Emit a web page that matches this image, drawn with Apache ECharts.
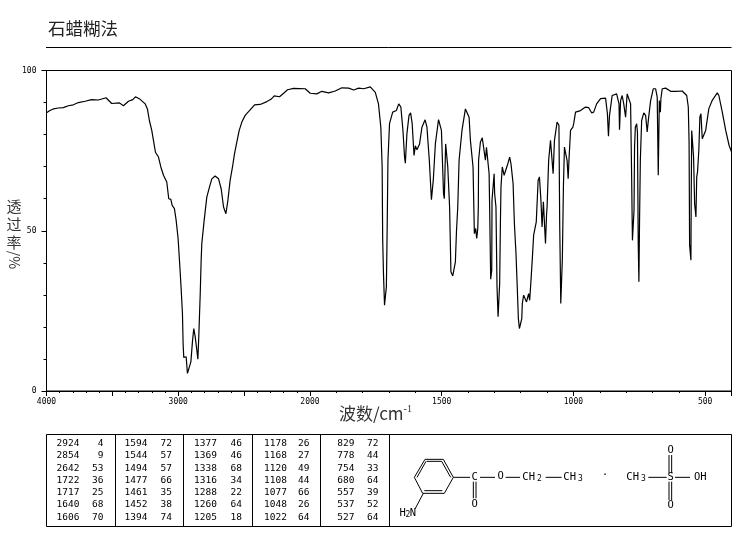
<!DOCTYPE html>
<html>
<head>
<meta charset="utf-8">
<style>html,body{margin:0;padding:0;background:#fff}#c{width:737px;height:539px}</style>
<script src="https://cdn.jsdelivr.net/npm/echarts@6/dist/echarts.min.js"></script>
</head>
<body>
<div id="c"></div>
<script>
const wavenumbers = [
4000,3974,3948,3910,3872,3834,3796,3758,3707,3657,3606,3548,3505,3446,3416,3378,3345,3325,3289,3251,3234,3219,3201,3188,3173,3150,3132,3112,3087,3072,3056,3046,3029,3016,3001,2986,
2978,2968,2963,2958,2940,2930,2917,2904,2892,2882,2871,2859,2851,2844,2833,2826,2821,2803,2783,2763,2745,2720,2694,2674,2656,2638,2623,2606,2588,2573,2555,2537,2517,2492,2454,2421,2378,2327,2296,2271,2231,2200,2170,2124,2036,
1999,1974,1955,1929,1904,1879,1853,1834,1815,1796,1771,1752,1740,1731,1726,1724,1721,1717,1715,1710,1708,1706,1704,1698,1686,1672,1663,1655,1647,1641,1638,1632,1624,1618,1612,1605,1600,1594,1584,1575,1563,1556,1547,1539,1532,1524,1512,1501,1493,1490,1485,1480,1477,1470,1465,1458,1453,1448,1444,1439,1434,1423,1410,1404,1396,1391,1386,1381,1376,1371,1367,1363,1361,1360,1353,1346,1339,1334,1330,1325,1320,1318,1316,1314,1310,1309,1301,1299,1294,1290,1286,1282,1280,1277,1275,1270,1263,1256,1249,1242,1237,1229,1224,1218,1213,1209,1205,1200,1196,1194,1189,1184,1178,1174,1170,1166,1161,1156,1151,1141,1134,1129,1123,1119,1114,1110,1106,1102,1100,1094,1087,1082,1077,1072,1062,1055,1052,1048,1044,1042,1038,1034,1028,1024,1020,1017,1011,1002,999,992,973,954,942,931,923,912,897,878,871,867,863,853,836,827,825,821,815,809,802,796,790,783,779,777,776,774,770,768,765,760,757,754,751.5,749,746,741,733,726,720,715,707,697,688,682,678,674,670,668,663,650,631,612,587,570,564,561,559,556.5,554,553,551,546,544,540,535,532,529,526,524,520,516,511,505,498,486,473,454,448,435,422,409,400
];
const transmittance = [
86.8,87.5,88.0,88.3,88.4,89.0,89.3,90.0,90.4,90.9,90.8,91.5,89.7,89.9,89.0,90.4,90.9,91.8,91.0,89.6,88.0,84.4,81.3,78.2,74.5,73.0,69.9,67.3,65.2,60.0,59.8,57.9,56.9,53.3,47.6,37.7,
32.0,24.2,14.8,10.5,10.7,5.5,5.0,9.1,15.4,19.5,16.9,12.8,9.9,16.9,30.4,40.8,46.0,53.3,60.5,63.6,66.2,67.1,66.2,63.1,57.4,55.3,59.5,65.7,69.9,74.0,77.7,81.3,83.9,86.0,87.7,89.3,89.4,90.3,91.0,92.1,91.8,92.9,94.0,94.4,94.3,
92.9,92.7,93.5,93.0,93.6,94.6,94.5,93.9,94.5,94.3,94.9,93.2,89.6,82.3,69.9,47.6,36.7,26.8,26.6,32.5,43.9,57.4,72,83.4,87,87.5,89.6,88.6,81.3,73,71.1,80.3,86,86.8,83.4,73.5,76.5,75.3,77.1,82.3,84.6,82.3,72,59.7,65.7,77.1,84.7,81.3,61.6,60,77.1,77,70,57.4,37.2,35.9,36.1,40.3,49.6,57.4,72,81.3,88,88,85.4,78.2,78.2,69.9,49.1,50.7,47.6,50.7,57.4,72,77.7,79,78.4,72,76,76,67.8,57.4,46,34.9,37.7,59.5,67.8,61.6,57.4,32.5,23.2,23.2,33.5,53.3,63.6,69.9,67.3,66.8,70.9,73,70.9,64.7,52.2,42.9,32,22.6,19.5,19.2,22.6,27.3,29.9,29.4,27.8,27.8,30.4,28.3,34.6,41.3,48.6,52.8,65.7,66.8,59,51.2,59,59,46,55,57.4,72,78.2,78.7,67.8,78.2,83.9,82.9,51.7,27.3,26.8,41.3,63.6,76.1,76.6,71.9,66.2,71.9,81.3,82.3,83.4,87,87.5,88.6,88.4,86.8,87,89.6,91.2,91.4,86.5,79.5,86,92.2,92.7,89.6,81.5,90.6,92.2,89.6,85.4,92.7,93,89.6,66.8,53.3,47,47,56.4,76.1,82.3,83.4,80.8,46,34.1,53.3,72,84.4,86.8,86,80.8,85,90.6,94.3,94.3,91.7,67.3,90.6,87,91.2,94.3,94.5,93.5,93.5,93.6,92.2,88.6,77.7,45.5,45,40.8,59.5,81.3,81.3,73,58.5,54.3,66.8,68.3,68.9,75.1,85.5,86.5,78.7,78.4,81.3,88.1,90.7,93,92.2,87,81.3,76.6,74.6
];
const xLabelTicks = [4000, 3000, 2000, 1500, 1000, 500];
const xMajorTicks = [4000, 3500, 3000, 2500, 2000, 1500, 1000, 500, 400];
const xMinorTicks = [3900,3800,3700,3600,3400,3300,3200,3100,2900,2800,2700,2600,2400,2300,2200,2100,1900,1800,1700,1600,1400,1300,1200,1100,900,800,700,600];
const peakWaves = [
  [2924,2854,2642,1722,1717,1640,1606],
  [1594,1544,1494,1477,1461,1452,1394],
  [1377,1369,1338,1316,1288,1260,1205],
  [1178,1168,1120,1108,1077,1048,1022],
  [829,778,754,680,557,537,527]
];
const peakValues = [
  [4,9,53,36,25,68,70],
  [72,57,57,66,35,38,74],
  [46,46,68,34,22,64,18],
  [26,27,49,44,66,26,64],
  [72,44,33,64,39,52,64]
];
const titleText = '石蜡糊法';

// The spectrum's wavenumber axis doubles its scale below 2000 cm-1.
function toAxis(w){ return w >= 2000 ? 4000 - w : 2000 + (2000 - w) * 2; }
function fromAxis(u){ return u <= 2000 ? 4000 - u : 2000 - (u - 2000) / 2; }

const mono = '"DejaVu Sans Mono", monospace';
const g = [];
function line(x1,y1,x2,y2){ g.push({type:'line',silent:true,shape:{x1,y1,x2,y2},style:{stroke:'#000',lineWidth:1}}); }
function txt(x,y,text,size,align,extra){
  g.push(Object.assign({type:'text',silent:true,x,y,style:{text,fill:'#000',font:size+'px '+mono,textAlign:align||'center',textVerticalAlign:'middle'}},extra||{}));
}
// rule below the title
line(46,47.5,731.5,47.5);
// vertical axis caption
g.push({type:'text',silent:true,x:14,y:224,style:{text:'透\n过\n率',fill:'#333',font:'15px "Noto Sans CJK SC"',textAlign:'center',textVerticalAlign:'middle',lineHeight:18}});
g.push({type:'text',silent:true,x:14,y:260,rotation:-Math.PI/2,style:{text:'/%',fill:'#333',font:'14px "Noto Sans CJK SC"',textAlign:'center',textVerticalAlign:'middle'}});
// peak table frame
g.push({type:'rect',silent:true,shape:{x:46.5,y:434.5,width:685,height:92},style:{fill:'none',stroke:'#000',lineWidth:1}});
[115.5,183.5,252.5,320.5,389.5].forEach(x=>line(x,434.5,x,526.5));
const colWaveRight=[79.5,147.5,217,287,354.5], colValRight=[103.5,172,242,309.5,378.5];
peakWaves.forEach((col,i)=>col.forEach((w,r)=>{
  const y=443.5+r*12.3;
  txt(colWaveRight[i],y,String(w),9.5,'right');
  txt(colValRight[i],y,String(peakValues[i][r]),9.5,'right');
}));
// structure: 3-aminobenzoate ester . methanesulfonic acid
const P=(zx,zy)=>[385+zx/3,430+zy/3];
function bond(a,b,c,d){ const p=P(a,b),q=P(c,d); line(p[0],p[1],q[0],q[1]); }
function label(a,b,t,sz){ const p=P(a,b); txt(p[0],p[1],t,sz||10.5); }
bond(120,88,175,88);bond(175,88,205,142);bond(205,142,178,190);bond(178,190,113,190);bond(113,190,88,142);bond(88,142,120,88);
bond(125,94,170,94);bond(118,182,172,182);bond(96,142,123,94);bond(170,94,197,142);
bond(115,190,90,237);
bond(205,142,255,142);bond(265,155,265,205);bond(273,155,273,205);
bond(285,142,330,142);bond(362,142,405,142);bond(482,142,530,142);bond(790,142,845,142);bond(870,142,915,142);
bond(852,75,852,130);bond(860,75,860,130);bond(852,155,852,210);bond(860,155,860,210);
label(269,142,'C');label(269,222,'O');label(347,140,'O');
label(431,142,'CH');label(463,148,'2',8);label(554,142,'CH');label(586,148,'3',8);
label(660,135,'·',11);
label(743,142,'CH');label(775,148,'3',8);label(857,142,'S');label(857,62,'O');label(857,225,'O');label(946,142,'OH');
label(53,250,'H');label(69,256,'2',8);label(84,250,'N');

const option = {
  animation:false,
  backgroundColor:'#fff',
  title:{text:titleText,left:43,top:15,textStyle:{fontFamily:'"Noto Sans CJK SC"',fontSize:17.5,fontWeight:'normal',color:'#222'}},
  grid:{left:46.5,right:5.5,top:70.5,bottom:148,show:true,borderColor:'#000',borderWidth:1,backgroundColor:'#fff'},
  xAxis:[{
    type:'value',min:0,max:toAxis(400),position:'bottom',
    name:'{m|波数/cm}{s|-1}',nameLocation:'middle',nameGap:13,nameMoveOverlap:false,
    nameTextStyle:{padding:[0,27,0,0],rich:{m:{fontFamily:'"Noto Sans CJK SC"',fontSize:17,color:'#333',verticalAlign:'bottom'},s:{fontFamily:'"Liberation Serif"',fontSize:10,color:'#333',verticalAlign:'top',padding:[0,0,8,0]}}},
    splitLine:{show:false},
    axisLine:{show:true,lineStyle:{color:'#000',width:1}},
    axisTick:{show:true,length:5,customValues:xMajorTicks.map(toAxis),lineStyle:{color:'#000'}},
    axisLabel:{show:true,margin:7,customValues:xLabelTicks.map(toAxis),showMinLabel:true,showMaxLabel:true,hideOverlap:false,
      formatter:v=>String(Math.round(fromAxis(v))),fontFamily:mono,fontSize:8,color:'#000'}
  },{
    type:'value',min:0,max:toAxis(400),position:'bottom',
    splitLine:{show:false},axisLine:{show:false},axisLabel:{show:false},
    axisTick:{show:true,length:2,customValues:xMinorTicks.map(toAxis),lineStyle:{color:'#000'}}
  }],
  yAxis:{
    type:'value',min:0,max:100,interval:50,
    splitLine:{show:false},
    axisLine:{show:true,lineStyle:{color:'#000',width:1}},
    axisTick:{show:true,length:5,lineStyle:{color:'#000'}},
    minorTick:{show:true,splitNumber:5,length:3,lineStyle:{color:'#000'}},
    axisLabel:{margin:10,fontFamily:mono,fontSize:8,color:'#000'}
  },
  series:[{
    type:'line',xAxisIndex:0,showSymbol:false,smooth:false,
    lineStyle:{color:'#000',width:1.2},
    data:wavenumbers.map((w,i)=>[toAxis(w),transmittance[i]])
  }],
  graphic:{elements:g}
};
echarts.init(document.getElementById('c'),null,{renderer:'canvas'}).setOption(option);
</script>
</body>
</html>
